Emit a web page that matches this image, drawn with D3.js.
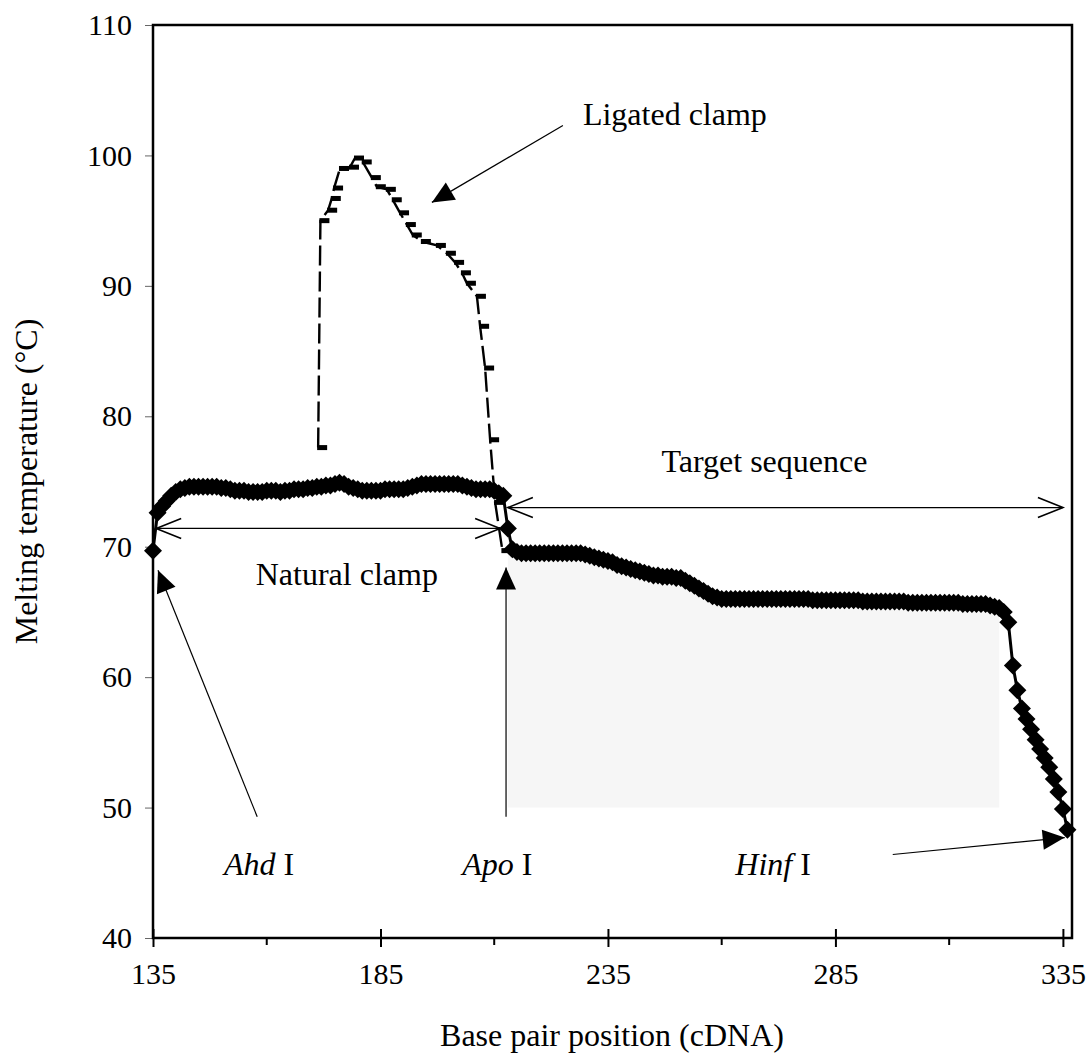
<!DOCTYPE html>
<html>
<head>
<meta charset="utf-8">
<script src="https://cdn.jsdelivr.net/npm/d3@7"></script>
<style>
  body { margin: 0; background: #fff; }
  text { font-family: "Liberation Serif", "Times New Roman", serif; fill: #000; }
</style>
</head>
<body>
<div id="chart"></div>
<script>
// size of the whole picture and of the plot box
var width = 1092,
  height = 1055;
var margin = { left: 153, right: 20, top: 25, bottom: 117 };

// ---- data ----
// base pair positions of the natural clamp / target melting profile
var positions = d3.range(135, 337);
// melting temperature (°C) at each position 135..336
var meltTemps = [
  69.7, 72.6, 73.1, 73.5, 73.9, 74.2, 74.4, 74.5, 74.6, 74.6,
  74.6, 74.6, 74.6, 74.6, 74.6, 74.5, 74.5, 74.4, 74.3, 74.3,
  74.3, 74.2, 74.2, 74.2, 74.2, 74.3, 74.3, 74.3, 74.2, 74.3,
  74.3, 74.4, 74.4, 74.4, 74.5, 74.5, 74.6, 74.6, 74.7, 74.7,
  74.8, 74.9, 74.8, 74.6, 74.5, 74.4, 74.3, 74.3, 74.3, 74.3,
  74.3, 74.4, 74.4, 74.4, 74.4, 74.4, 74.5, 74.6, 74.7, 74.8,
  74.8, 74.8, 74.8, 74.8, 74.8, 74.8, 74.8, 74.8, 74.7, 74.6,
  74.5, 74.4, 74.4, 74.4, 74.4, 74.3, 74.1, 73.9, 71.4, 69.8,
  69.6, 69.5, 69.5, 69.5, 69.5, 69.5, 69.5, 69.5, 69.5, 69.5,
  69.5, 69.5, 69.5, 69.5, 69.5, 69.4, 69.3, 69.2, 69.1, 69.0,
  68.9, 68.8, 68.6, 68.5, 68.4, 68.3, 68.2, 68.1, 68.0, 67.9,
  67.8, 67.8, 67.7, 67.7, 67.7, 67.6, 67.6, 67.4, 67.2, 67.0,
  66.8, 66.6, 66.4, 66.2, 66.1, 66.0, 66.0, 66.0, 66.0, 66.0,
  66.0, 66.0, 66.0, 66.0, 66.0, 66.0, 66.0, 66.0, 66.0, 66.0,
  66.0, 66.0, 66.0, 66.0, 66.0, 65.9, 65.9, 65.9, 65.9, 65.9,
  65.9, 65.9, 65.9, 65.9, 65.9, 65.9, 65.8, 65.8, 65.8, 65.8,
  65.8, 65.8, 65.8, 65.8, 65.8, 65.8, 65.7, 65.7, 65.7, 65.7,
  65.7, 65.7, 65.7, 65.7, 65.7, 65.7, 65.7, 65.7, 65.6, 65.6,
  65.6, 65.6, 65.6, 65.6, 65.5, 65.4, 65.3, 65.0, 64.2, 60.9,
  59.0, 57.6, 56.8, 56.0, 55.2, 54.5, 53.8, 53.1, 52.2, 51.2,
  49.9, 48.3
];

// ligated clamp profile (positions are not on whole base pairs in the plot)
var ligatedPos = [171.3, 171.8, 173.5, 174.3, 174.8, 176.1, 178.3, 179.4, 181.1, 183.1,
  184.2, 186.4, 187.7, 189.3, 190.8, 192.1, 194.1, 197.4, 199.6, 201.4,
  202.9, 204.0, 206.2, 206.9, 208.0, 209.1, 210.2, 211.8];
var ligatedTemps = [77.6, 95.0, 95.8, 96.7, 97.5, 99.0, 99.1, 99.8, 99.5, 98.3,
  97.6, 97.4, 96.6, 95.6, 94.7, 93.9, 93.4, 93.1, 92.5, 91.8,
  91.0, 90.2, 89.2, 86.9, 83.7, 78.2, 73.4, 69.7];

// axis ticks
var xTicks = [135, 185, 235, 285, 335];
var xMinorTicks = [160, 210, 260, 310];
var yTicks = [40, 50, 60, 70, 80, 90, 100, 110];

var svg = d3
  .select("#chart")
  .append("svg")
  .attr("width", width)
  .attr("height", height);

var x = d3
  .scaleLinear()
  .domain([135, 337])
  .range([margin.left, width - margin.right]);

var y = d3
  .scaleLinear()
  .domain([40, 110])
  .range([height - margin.bottom, margin.top]);

var main = positions.map(function(p, i) {
  return { x: p, y: meltTemps[i] };
});
var ligated = ligatedPos.map(function(p, i) {
  return { x: p, y: ligatedTemps[i] };
});

// faint grey speckle of the scan below the target sequence
svg
  .append("path")
  .datum(main.filter(function(d) { return d.x >= 213 && d.x <= 321; }))
  .attr("fill", "#f6f6f6")
  .attr("d", d3.area()
    .x(function(d) { return x(d.x); })
    .y0(y(50))
    .y1(function(d) { return y(d.y) + 8; }));

// arrowheads
var defs = svg.append("defs");
defs
  .append("marker")
  .attr("id", "tri")
  .attr("markerUnits", "userSpaceOnUse")
  .attr("viewBox", "-24 -11 26 22")
  .attr("markerWidth", 26)
  .attr("markerHeight", 22)
  .attr("refX", 0)
  .attr("refY", 0)
  .attr("orient", "auto")
  .append("path")
  .attr("d", "M-22,-10L0,0L-22,10Z")
  .attr("fill", "#000");

// ---- frame and axes ----
var xAxis = svg
  .append("g")
  .attr("transform", "translate(0," + y(40) + ")")
  .call(d3.axisBottom(x).tickValues(xTicks).tickSize(9).tickSizeOuter(0));
xAxis.select(".domain").remove();
xAxis.selectAll(".tick line").attr("y1", -9).attr("stroke-width", 2);
xAxis
  .selectAll(".tick text")
  .attr("y", 46)
  .attr("dy", 0)
  .style("font-size", "30px")
  .style("font-family", '"Liberation Serif", serif');

svg
  .selectAll(".minor")
  .data(xMinorTicks)
  .enter()
  .append("line")
  .attr("class", "minor")
  .attr("x1", function(d) { return x(d); })
  .attr("x2", function(d) { return x(d); })
  .attr("y1", y(40))
  .attr("y2", y(40) + 7)
  .attr("stroke", "#000")
  .attr("stroke-width", 2);

var yAxis = svg
  .append("g")
  .attr("transform", "translate(" + x(135) + ",0)")
  .call(d3.axisLeft(y).tickValues(yTicks).tickSize(8).tickPadding(13).tickSizeOuter(0));
yAxis.select(".domain").remove();
yAxis.selectAll(".tick line").attr("stroke", "#666").attr("stroke-width", 1);
yAxis
  .selectAll(".tick text")
  .style("font-size", "30px")
  .style("font-family", '"Liberation Serif", serif');

svg
  .append("rect")
  .attr("x", x(135))
  .attr("y", y(110))
  .attr("width", x(337) - x(135))
  .attr("height", y(40) - y(110))
  .attr("fill", "none")
  .attr("stroke", "#000")
  .attr("stroke-width", 2.5);

// axis titles
svg
  .append("text")
  .attr("x", 612)
  .attr("y", 1046)
  .attr("text-anchor", "middle")
  .style("font-size", "32px")
  .text("Base pair position (cDNA)");

svg
  .append("text")
  .attr("transform", "translate(37," + (y(40) + y(110)) / 2 + ") rotate(-90)")
  .attr("text-anchor", "middle")
  .style("font-size", "32px")
  .text("Melting temperature (°C)");

// ---- ligated clamp: dashed line with dash markers ----
var line = d3
  .line()
  .x(function(d) { return x(d.x); })
  .y(function(d) { return y(d.y); });

svg
  .append("path")
  .datum(ligated)
  .attr("d", line)
  .attr("fill", "none")
  .attr("stroke", "#000")
  .attr("stroke-width", 2.4)
  .attr("stroke-dasharray", "20,6");

svg
  .selectAll(".dash")
  .data(ligated)
  .enter()
  .append("rect")
  .attr("class", "dash")
  .attr("x", function(d) { return x(d.x) - 1; })
  .attr("y", function(d) { return y(d.y) - 2.5; })
  .attr("width", 10)
  .attr("height", 5)
  .attr("fill", "#000");

// ---- natural clamp + target: thick line with diamonds ----
svg
  .append("path")
  .datum(main)
  .attr("d", line)
  .attr("fill", "none")
  .attr("stroke", "#000")
  .attr("stroke-width", 3);

svg
  .selectAll(".diamond")
  .data(main)
  .enter()
  .append("path")
  .attr("class", "diamond")
  .attr("transform", function(d) {
    return "translate(" + x(d.x) + "," + y(d.y) + ")";
  })
  .attr("d", "M0,-9L9,0L0,9L-9,0Z")
  .attr("fill", "#000");

// ---- annotations ----
function arrow(x1, y1, x2, y2) {
  svg
    .append("line")
    .attr("x1", x(x1))
    .attr("y1", y(y1))
    .attr("x2", x(x2))
    .attr("y2", y(y2))
    .attr("stroke", "#000")
    .attr("stroke-width", 1.2)
    .attr("marker-end", "url(#tri)");
}

// double headed arrow with open chevrons
function span(x1, x2, yv) {
  var py = y(yv);
  svg
    .append("line")
    .attr("x1", x(x1))
    .attr("x2", x(x2))
    .attr("y1", py)
    .attr("y2", py)
    .attr("stroke", "#000")
    .attr("stroke-width", 1.2);
  [[x(x1), 1], [x(x2), -1]].forEach(function(e) {
    svg
      .append("path")
      .attr("d", "M" + (e[0] + e[1] * 25) + "," + (py - 10) + "L" + e[0] + "," + py + "L" + (e[0] + e[1] * 25) + "," + (py + 10))
      .attr("fill", "none")
      .attr("stroke", "#000")
      .attr("stroke-width", 1.6);
  });
}

function label(xv, yv, parts, anchor) {
  var t = svg
    .append("text")
    .attr("x", x(xv))
    .attr("y", y(yv))
    .attr("text-anchor", anchor || "middle")
    .style("font-size", "32px");
  parts.forEach(function(p) {
    t.append("tspan").style("font-style", p[1] ? "italic" : "normal").text(p[0]);
  });
}

arrow(225.1, 102.3, 196.3, 96.4);
label(229.5, 102.3, [["Ligated clamp"]], "start");

span(135.7, 211.3, 71.4);
label(177.6, 67.1, [["Natural clamp"]]);

span(213.0, 335.0, 73.0);
label(269.4, 75.7, [["Target sequence"]]);

arrow(157.9, 49.3, 136.1, 68.2);
arrow(212.6, 49.3, 212.6, 68.4);
arrow(297.6, 46.4, 335.4, 47.7);

label(158.3, 44.8, [["Ahd", true], [" I"]]);
label(210.7, 44.8, [["Apo", true], [" I"]]);
label(271.3, 44.8, [["Hinf", true], [" I"]]);
</script>
</body>
</html>
